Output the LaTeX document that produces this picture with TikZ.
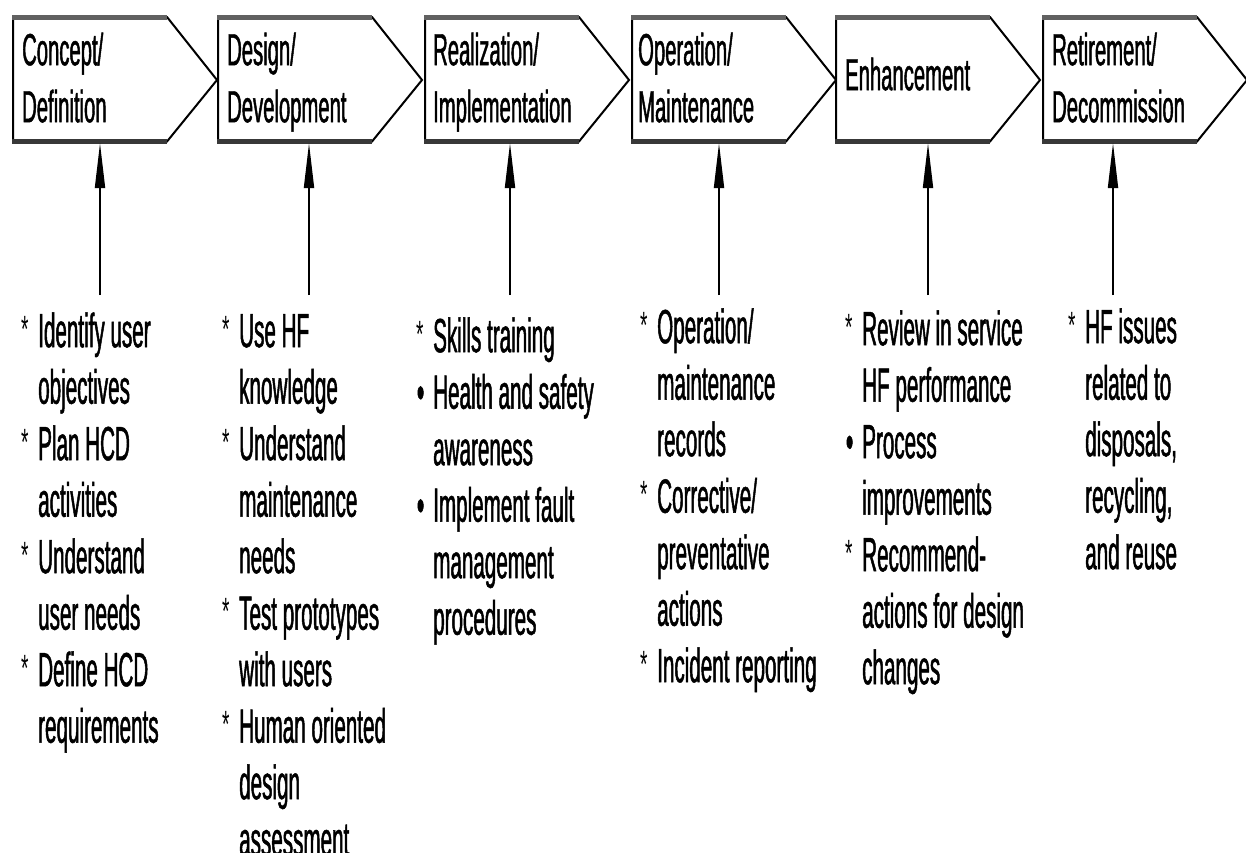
\documentclass[tikz,border=0pt]{standalone}
\usepackage{fontspec}
\setmainfont{Liberation Sans}
\newfontfamily\headfont[FakeStretch=0.45,FakeBold=1]{Liberation Sans}
\newfontfamily\itemfont[FakeStretch=0.43,FakeBold=1]{Liberation Sans}
\newfontfamily\starfont[FakeStretch=0.5]{Liberation Sans}
\usetikzlibrary{arrows.meta}

% hanging list markers
\newcommand\mk[1]{\leavevmode\llap{#1\hspace{9pt}}}
\newcommand\st{\mk{\raisebox{5pt}{\starfont\fontsize{38}{38}\selectfont *}}}
\newcommand\bu{\mk{•}}

\tikzset{
  stage/.style={fill=white, draw=black, line width=2pt, line join=miter},
  rimtop/.style={draw=black!62, line width=5pt, line cap=butt},
  rimbot/.style={draw=black!78, line width=4.5pt, line cap=butt},
  headtext/.style={anchor=north west, inner sep=0pt, align=left,
    font=\headfont\fontsize{45}{57}\selectfont},
  itemtext/.style={anchor=north west, inner sep=0pt, text width=220pt, align=flush left,
    font=\itemfont\fontsize{48}{56.5}\selectfont},
  feed/.style={line width=1.8pt, -{Triangle[length=45pt,width=10pt]}},
}

\begin{document}
\begin{tikzpicture}[x=1pt, y=-1pt]
\useasboundingbox (0,0) rectangle (1246,852);
\clip (0,0) rectangle (1246,852);

% life-cycle stages drawn as chevrons
\foreach \L in {13,218,425,632,836,1043} {
  \path[stage] (\L,17) -- (\L+154,17) -- (\L+204,80) -- (\L+154,141.5) -- (\L,141.5) -- cycle;
  \draw[rimtop] (\L-1,17.5) -- (\L+154,17.5);
  \draw[rimbot] (\L-1,141.5) -- (\L+154,141.5);
}

% stage titles
\node[headtext] (h1) at (22,25.1)   {\strut Concept/\\Definition};
\node[headtext] (h2) at (227,25.1)  {\strut Design/\\Development};
\node[headtext] (h3) at (433,25.1)  {\strut Realization/\\Implementation};
\node[headtext] (h4) at (638,25.1)  {\strut Operation/\\Maintenance};
\node[headtext] (h5) at (845,50.1)  {\strut Enhancement};
\node[headtext] (h6) at (1052,25.1) {\strut Retirement/\\Decommission};

% human-factors activities for each stage
\node[itemtext] (c1) at (38,307.45)
  {\strut\st Identify user\\objectives\\\st Plan HCD\\activities\\\st Understand\\user needs\\\st Define HCD\\requirements};
\node[itemtext] (c2) at (239,307.45)
  {\strut\st Use HF\\knowledge\\\st Understand\\maintenance\\needs\\\st Test prototypes\\with users\\\st Human oriented\\design\\assessment};
\node[itemtext] (c3) at (433,312.45)
  {\strut\st Skills training\\\bu Health and safety\\awareness\\\bu Implement fault\\management\\procedures};
\node[itemtext] (c4) at (657,303.45)
  {\strut\st Operation/\\maintenance\\records\\\st Corrective/\\preventative\\actions\\\st Incident reporting};
\node[itemtext] (c5) at (862,305.45)
  {\strut\st Review in service\\HF performance\\\bu Process\\improvements\\\st Recommend-\\actions for design\\changes};
\node[itemtext] (c6) at (1085,303.45)
  {\strut\st HF issues\\related to\\disposals,\\recycling,\\and reuse};

% feeder arrows from activity lists up to the stages
\foreach \i/\x in {1/100,2/309,3/510,4/719,5/928,6/1113} {
  \coordinate (foot\i) at (\x,295);
  \coordinate (tip\i) at (\x,143);
  \draw[feed] (foot\i) -- (tip\i);
}
\end{tikzpicture}
\end{document}
